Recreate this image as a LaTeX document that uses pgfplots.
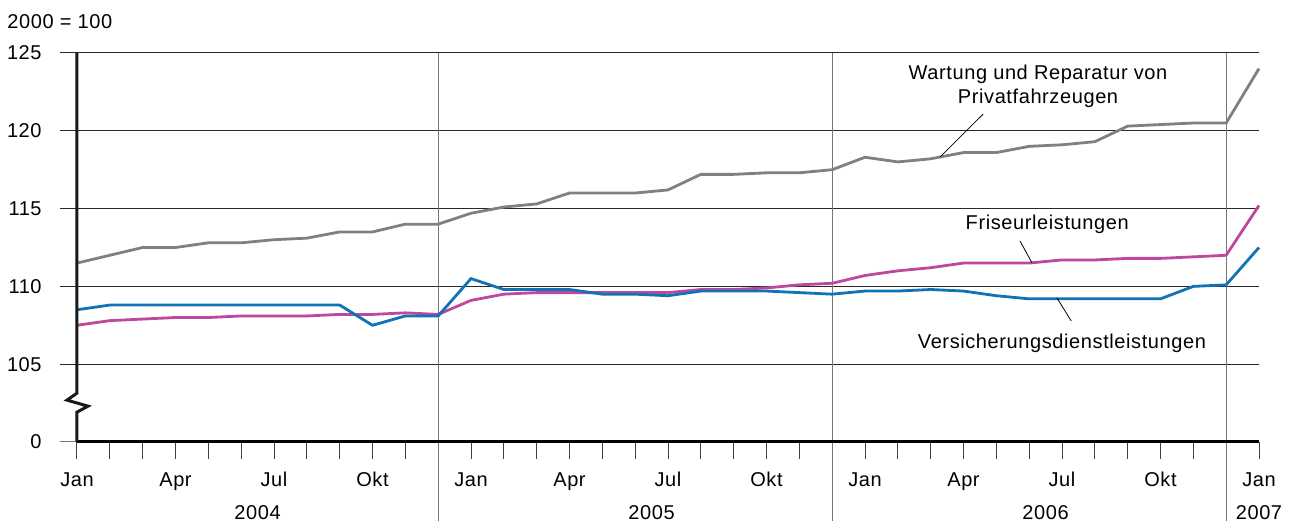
\documentclass[border=0pt]{standalone}
\usepackage{fontspec}
\setmainfont[LetterSpace=3]{Liberation Sans}
\usepackage{pgfplots}
\pgfplotsset{compat=1.18}
\definecolor{cgray}{RGB}{128,128,128}
\definecolor{cpink}{RGB}{190,72,160}
\definecolor{cblue}{RGB}{18,114,182}
\definecolor{gridc}{RGB}{40,40,40}
\definecolor{sepc}{RGB}{120,120,120}
\begin{document}
\fontsize{10}{12}\selectfont
\begin{tikzpicture}
\begin{axis}[
  scale only axis, width=591pt, height=194.5pt,
  xmin=0, xmax=36, ymin=100, ymax=125,
  axis line style={draw=none},
  major tick length=0pt,
  xtick={0,...,36},
  xticklabels={Jan,,,Apr,,,Jul,,,Okt,,,Jan,,,Apr,,,Jul,,,Okt,,,Jan,,,Apr,,,Jul,,,Okt,,,Jan},
  ytick={100,105,110,115,120,125},
  yticklabels={0,105,110,115,120,125},
  /pgf/number format/assume math mode=true,
  ticklabel style={font=\fontsize{10}{12}\selectfont, inner sep=0pt},
  xticklabel style={anchor=base, yshift=-22.5pt},
  yticklabel style={anchor=east, xshift=-17.5pt},
  ymajorgrids, grid style={gridc, line width=0.5pt},
  clip=false,
]
\pgfplotsinvokeforeach{105,110,...,125}{\draw[gridc, line width=0.5pt] (axis cs:0,#1) -- ([xshift=-8.5pt]axis cs:0,#1);}
\draw[sepc, line width=0.5pt] (axis cs:0,100) -- ([xshift=-8.5pt]axis cs:0,100);
\pgfplotsinvokeforeach{0,...,36}{\draw[black!75, line width=0.5pt] (axis cs:#1,100) -- ([yshift=-8.5pt]axis cs:#1,100);}
\pgfplotsinvokeforeach{11,23,35}{\draw[sepc, line width=0.6pt] (axis cs:#1,125) -- ([yshift=-39.5pt]axis cs:#1,100);}

\addplot[cgray, line width=1.4pt] coordinates {
(0,111.5)(1,112.0)(2,112.5)(3,112.5)(4,112.8)(5,112.8)(6,113.0)(7,113.1)(8,113.5)(9,113.5)(10,114.0)(11,114.0)
(12,114.7)(13,115.1)(14,115.3)(15,116.0)(16,116.0)(17,116.0)(18,116.2)(19,117.2)(20,117.2)(21,117.3)(22,117.3)(23,117.5)
(24,118.3)(25,118.0)(26,118.2)(27,118.6)(28,118.6)(29,119.0)(30,119.1)(31,119.3)(32,120.3)(33,120.4)(34,120.5)(35,120.5)(36,124.0)};
\addplot[cpink, line width=1.4pt] coordinates {
(0,107.5)(1,107.8)(2,107.9)(3,108.0)(4,108.0)(5,108.1)(6,108.1)(7,108.1)(8,108.2)(9,108.2)(10,108.3)(11,108.2)
(12,109.1)(13,109.5)(14,109.6)(15,109.6)(16,109.6)(17,109.6)(18,109.6)(19,109.8)(20,109.8)(21,109.9)(22,110.1)(23,110.2)
(24,110.7)(25,111.0)(26,111.2)(27,111.5)(28,111.5)(29,111.5)(30,111.7)(31,111.7)(32,111.8)(33,111.8)(34,111.9)(35,112.0)(36,115.2)};
\addplot[cblue, line width=1.4pt] coordinates {
(0,108.5)(1,108.8)(2,108.8)(3,108.8)(4,108.8)(5,108.8)(6,108.8)(7,108.8)(8,108.8)(9,107.5)(10,108.1)(11,108.1)
(12,110.5)(13,109.8)(14,109.8)(15,109.8)(16,109.5)(17,109.5)(18,109.4)(19,109.7)(20,109.7)(21,109.7)(22,109.6)(23,109.5)
(24,109.7)(25,109.7)(26,109.8)(27,109.7)(28,109.4)(29,109.2)(30,109.2)(31,109.2)(32,109.2)(33,109.2)(34,110.0)(35,110.1)(36,112.5)};

% axes
\draw[black, line width=1.5pt] (axis cs:0,100) -- (axis cs:36,100);
\draw[black!90, line width=1.5pt, line join=miter]
  (axis cs:0,125) -- (axis cs:0,103.14)
  -- ([xshift=-5pt,yshift=-3.5pt]axis cs:0,103.14)
  -- ([xshift=5.5pt,yshift=-6.5pt]axis cs:0,103.14)
  -- ([yshift=-9.5pt]axis cs:0,103.14)
  -- (axis cs:0,100);

% year labels
\node[anchor=base, inner sep=0pt] at ([yshift=-39pt]axis cs:5.5,100) {2004};
\node[anchor=base, inner sep=0pt] at ([yshift=-39pt]axis cs:17.5,100) {2005};
\node[anchor=base, inner sep=0pt] at ([yshift=-39pt]axis cs:29.5,100) {2006};
\node[anchor=base, inner sep=0pt] at ([yshift=-39pt]axis cs:36,100) {2007};

\node[anchor=base west, inner sep=0pt] at ([xshift=-35pt,yshift=12pt]axis cs:0,125) {2000 = 100};

% annotations
\node[align=center, inner sep=0pt] at (axis cs:29.27,122.87) {Wartung und Reparatur von\\Privatfahrzeugen};
\draw[black, line width=0.4pt] (axis cs:27.6,121.08) -- (axis cs:26.29,118.32);
\node[inner sep=0pt] at (axis cs:29.55,114.01) {Friseurleistungen};
\draw[black, line width=0.4pt] (axis cs:28.72,112.92) -- (axis cs:29.09,111.5);
\node[inner sep=0pt] at (axis cs:30.0,106.36) {Versicherungsdienstleistungen};
\draw[black, line width=0.4pt] (axis cs:29.85,109.25) -- (axis cs:30.28,107.78);

\coordinate (bl) at (rel axis cs:0,0);
\coordinate (tr) at (rel axis cs:1,1);
\end{axis}
\pgfresetboundingbox
\path ([shift={(-38.5pt,-40.5pt)}]bl) rectangle ([shift={(19pt,26.5pt)}]tr);
\end{tikzpicture}
\end{document}
